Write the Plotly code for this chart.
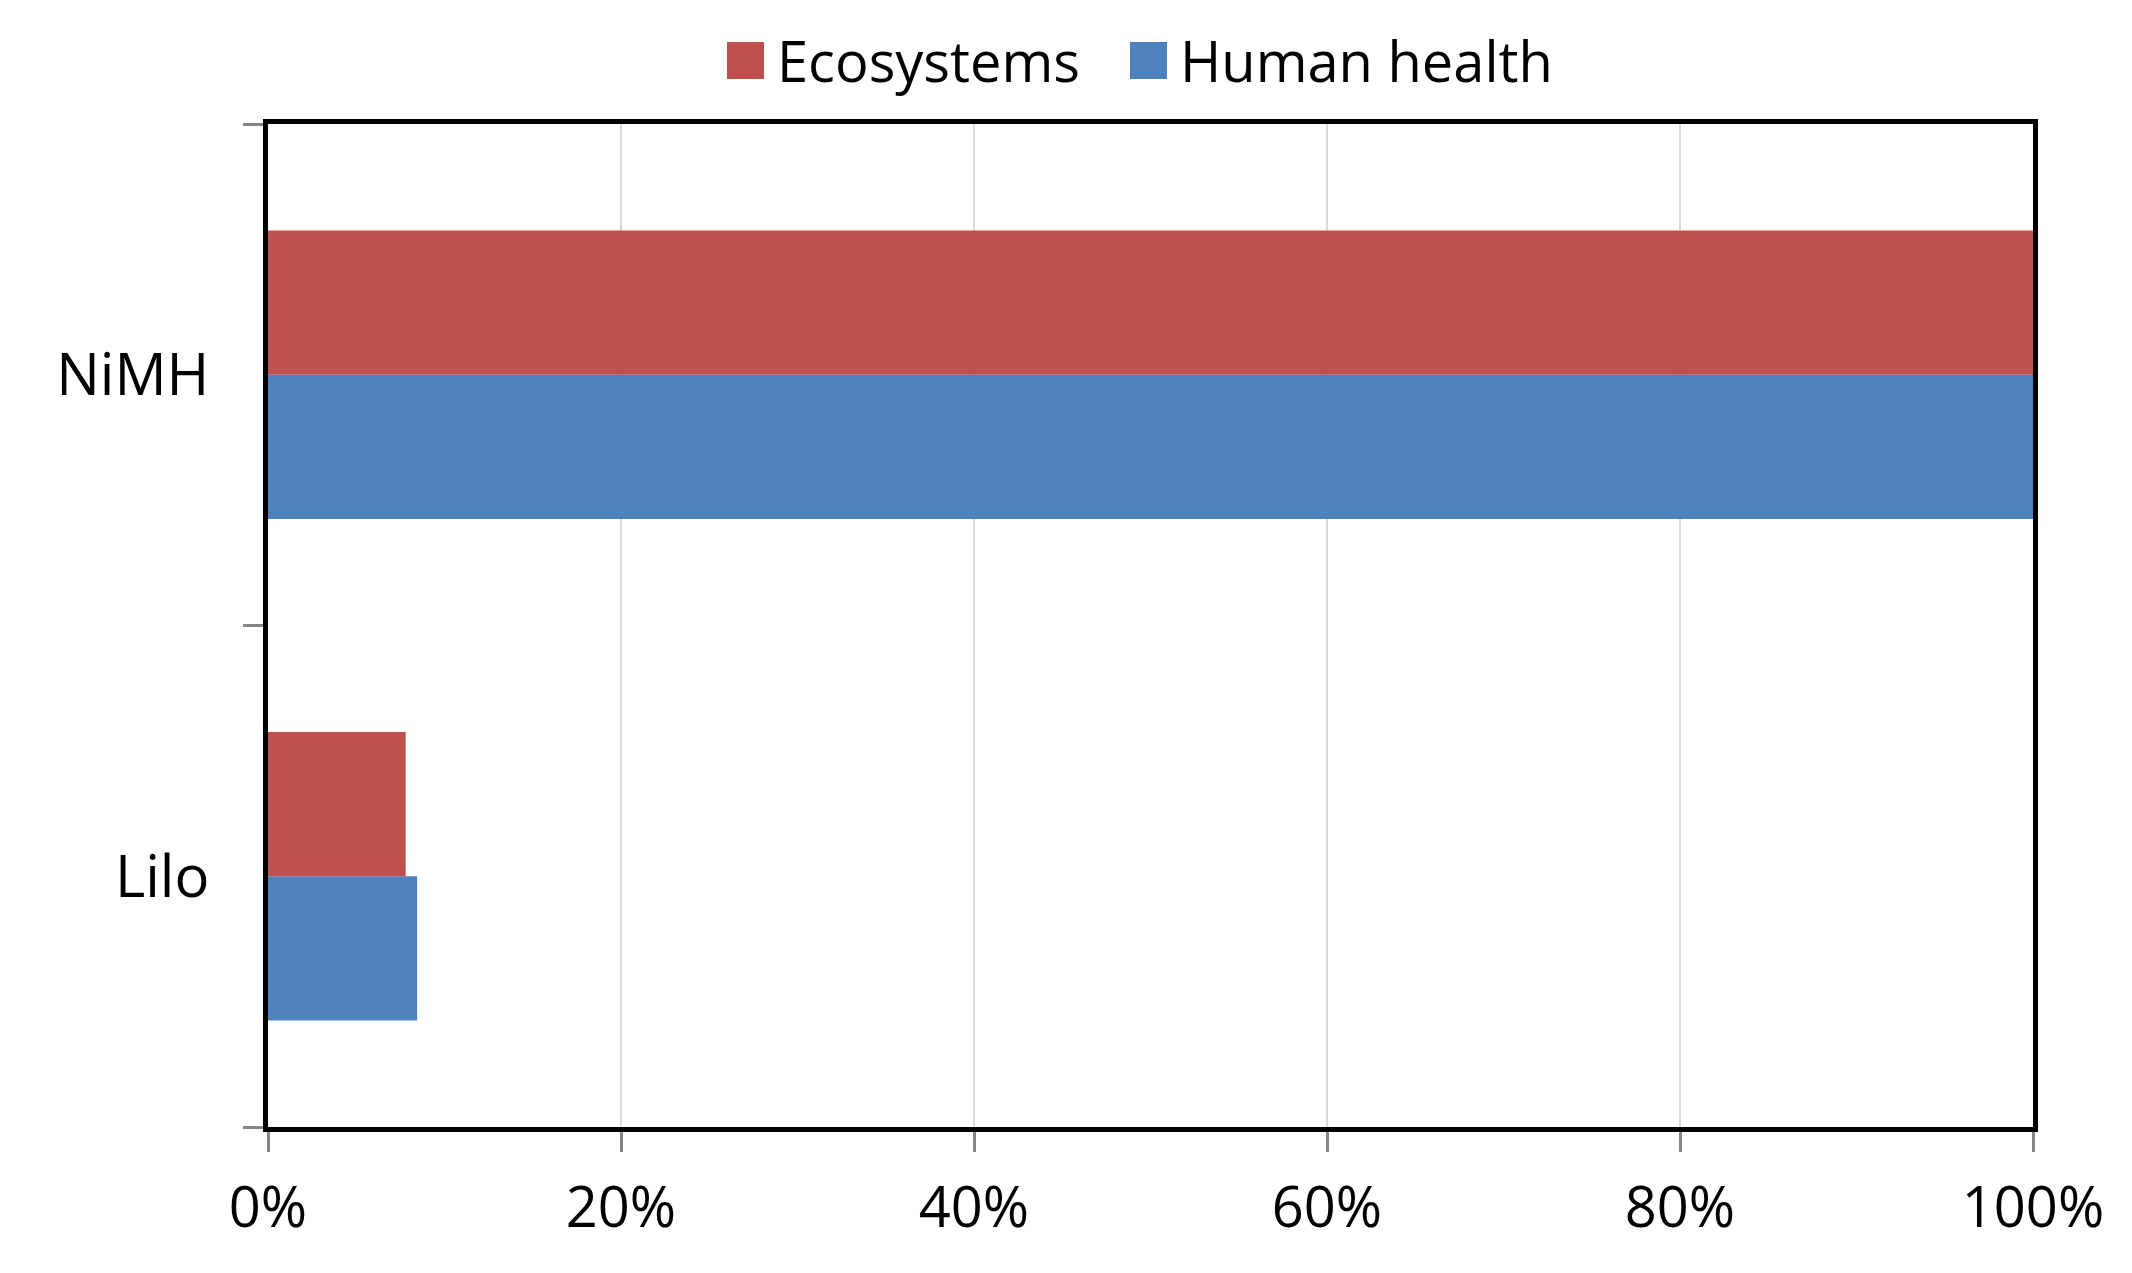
import plotly.graph_objects as go

categories = ["Lilo", "NiMH"]
series_names = ["Ecosystems", "Human health"]
ecosystems = [7.8, 100.0]
human_health = [8.45, 100.0]
series_colors = ["#C0504D", "#4F81BD"]
x_ticks = [0, 20, 40, 60, 80, 100]
x_tick_labels = ["0%", "20%", "40%", "60%", "80%", "100%"]

FONT = "Open Sans"

# page body adds an 8px offset
OFF = 8
W, H = 2132 - OFF * 2, 1273 - OFF * 2
L, T = 268 - OFF, 124 - OFF
PW, PH = 1765, 1003

fig = go.Figure()
# Human health first so it sits below Ecosystems within each group
fig.add_trace(go.Bar(y=categories, x=human_health, orientation="h", name=series_names[1],
                     marker=dict(color=series_colors[1], line=dict(width=0)), showlegend=False))
fig.add_trace(go.Bar(y=categories, x=ecosystems, orientation="h", name=series_names[0],
                     marker=dict(color=series_colors[0], line=dict(width=0)), showlegend=False))

# Manual legend (large square swatches as in the reference), positions in page px
legend_items = [(series_names[0], series_colors[0], 727), (series_names[1], series_colors[1], 1130)]
sq_top, sq_bot = 42, 79
for name, col, px in legend_items:
    fig.add_shape(type="rect", xref="paper", yref="paper",
                  x0=(px - 268) / PW, x1=(px + 37 - 268) / PW,
                  y0=(1127 - sq_bot) / PH, y1=(1127 - sq_top) / PH,
                  fillcolor=col, line=dict(width=0))
    fig.add_annotation(text=name, xref="paper", yref="paper",
                       x=(px + 48 - 268) / PW, y=(1127 - 60) / PH,
                       xanchor="left", yanchor="middle", showarrow=False,
                       font=dict(family=FONT, size=56, color="black"))

fig.update_layout(
    width=W, height=H,
    margin=dict(l=L, r=W - L - PW, t=T, b=H - T - PH),
    paper_bgcolor="white", plot_bgcolor="white",
    barmode="group", bargap=0.425, bargroupgap=0,
    font=dict(family=FONT, size=56, color="black"),
    showlegend=False,
)
fig.update_xaxes(
    range=[0, 100], tickvals=x_ticks, ticktext=x_tick_labels,
    showgrid=True, gridcolor="#D9D9D9", gridwidth=2,
    showline=True, linecolor="black", linewidth=5, mirror=True,
    ticks="outside", ticklen=20, tickwidth=3, tickcolor="#868686",
    ticklabelstandoff=8,
    tickfont=dict(family=FONT, size=56, color="black"),
    zeroline=False, fixedrange=True,
)
fig.update_yaxes(
    type="category", categoryorder="array", categoryarray=categories,
    showgrid=False,
    showline=True, linecolor="black", linewidth=5, mirror=True,
    ticks="outside", tickson="boundaries", ticklen=20, tickwidth=3, tickcolor="#868686",
    ticklabelstandoff=42,
    tickfont=dict(family=FONT, size=58, color="black"),
    zeroline=False, fixedrange=True,
)

fig.write_html("out.html")
